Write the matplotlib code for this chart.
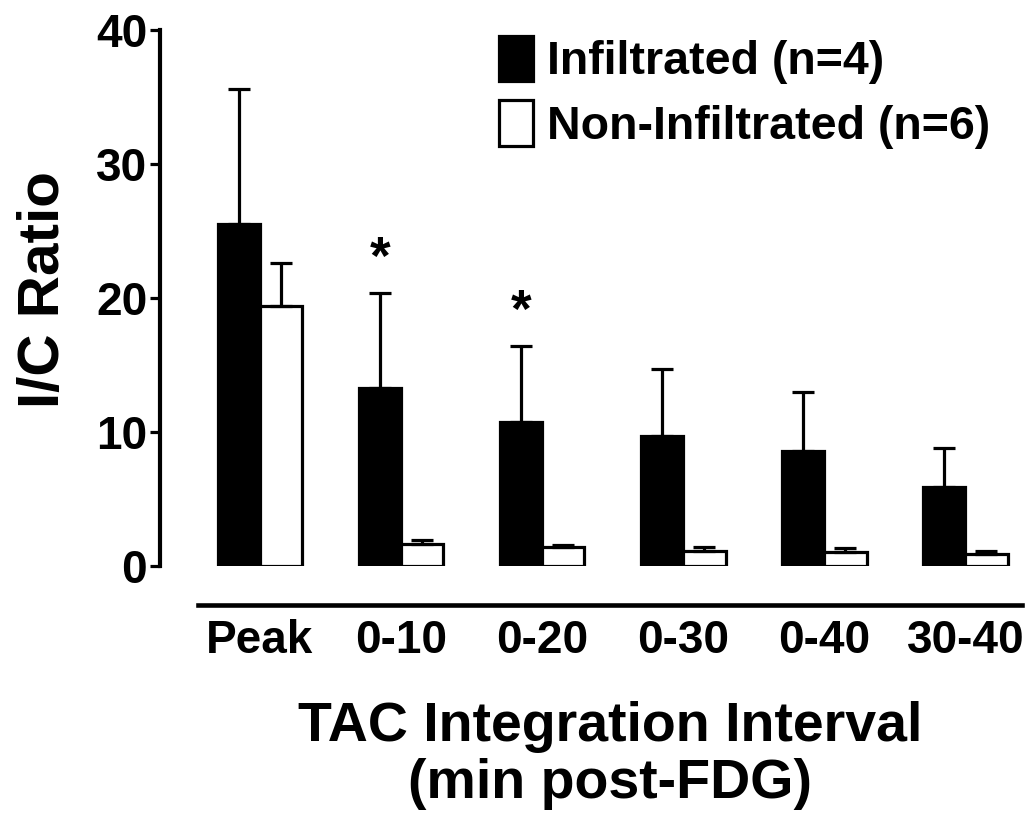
import matplotlib
matplotlib.use("Agg")
import matplotlib.pyplot as plt
from matplotlib.patches import Patch
import numpy as np


INTERVALS = ["Peak", "0-10", "0-20", "0-30", "0-40", "30-40"]
INFILTRATED_MEAN = [25.5, 13.3, 10.75, 9.7, 8.6, 5.9]
INFILTRATED_SEM = [10.1, 7.1, 5.65, 5.0, 4.4, 2.9]
NON_INFILTRATED_MEAN = [19.4, 1.65, 1.4, 1.1, 1.05, 0.92]
NON_INFILTRATED_SEM = [3.2, 0.3, 0.2, 0.3, 0.3, 0.23]
SIGNIFICANT = ["0-10", "0-20"]

plt.rcParams["font.family"] = ["Liberation Sans", "DejaVu Sans"]
plt.rcParams["font.weight"] = "bold"

BAR_WIDTH = 0.3
LINE_W = 2.3
PX = 72 / 100  # points per pixel at dpi 100

fig = plt.figure(figsize=(10.30, 8.14), dpi=100)
axis = fig.add_axes([0.1553, 0.3047, 0.992 - 0.1553, 0.963 - 0.3047])

x_positions = np.arange(len(INTERVALS))
error_style = dict(ecolor="black", elinewidth=LINE_W, capsize=8, capthick=LINE_W)

axis.bar(
	x_positions - BAR_WIDTH / 2,
	INFILTRATED_MEAN,
	BAR_WIDTH,
	yerr=[np.zeros(len(INTERVALS)), INFILTRATED_SEM],
	color="black",
	edgecolor="black",
	linewidth=LINE_W,
	error_kw=error_style,
)
axis.bar(
	x_positions + BAR_WIDTH / 2,
	NON_INFILTRATED_MEAN,
	BAR_WIDTH,
	yerr=[np.zeros(len(INTERVALS)), NON_INFILTRATED_SEM],
	color="white",
	edgecolor="black",
	linewidth=LINE_W,
	error_kw=error_style,
)

for label in SIGNIFICANT:
	index = INTERVALS.index(label)
	top = INFILTRATED_MEAN[index] + INFILTRATED_SEM[index]
	axis.text(
		x_positions[index] - BAR_WIDTH / 2,
		top + 0.6,
		"*",
		ha="center",
		va="bottom",
		fontsize=38,
		fontweight="bold",
	)

axis.set_xlim(-0.709, 5.40)
axis.set_ylim(0, 40)
axis.set_yticks([0, 10, 20, 30, 40])
axis.set_xticks(x_positions)
axis.set_xticklabels(INTERVALS)
axis.tick_params(axis="y", labelsize=33, width=LINE_W, length=10 * PX, pad=2)
axis.tick_params(axis="x", labelsize=33, length=0, pad=14 * PX)
for tick_label in axis.get_xticklabels() + axis.get_yticklabels():
	tick_label.set_fontweight("bold")

for side in ("top", "right"):
	axis.spines[side].set_visible(False)
axis.spines["left"].set_linewidth(3)
axis.spines["bottom"].set_linewidth(3.3)
axis.spines["bottom"].set_position(("outward", 39 * PX))
axis.spines["bottom"].set_bounds(-0.44, 5.40)

axis.set_ylabel("I/C Ratio", fontsize=42, fontweight="bold")
axis.yaxis.set_label_coords(-0.103, 0.515)
axis.set_xlabel(
	"TAC Integration Interval\n(min post-FDG)",
	fontsize=40,
	fontweight="bold",
	linespacing=1.12,
)
axis.xaxis.set_label_coords(0.522, -0.252)

axis.legend(
	handles=[
		Patch(facecolor="black", edgecolor="black", linewidth=LINE_W, label="Infiltrated (n=4)"),
		Patch(facecolor="white", edgecolor="black", linewidth=LINE_W, label="Non-Infiltrated (n=6)"),
	],
	loc="upper left",
	bbox_to_anchor=(499 / 1030, 1 - 36 / 814),
	bbox_transform=fig.transFigure,
	frameon=False,
	fontsize=33.5,
	handlelength=0.74,
	handleheight=1.12,
	handletextpad=0.3,
	labelspacing=0.34,
	borderpad=0,
	borderaxespad=0,
)

fig.savefig("out.png", dpi=100)
